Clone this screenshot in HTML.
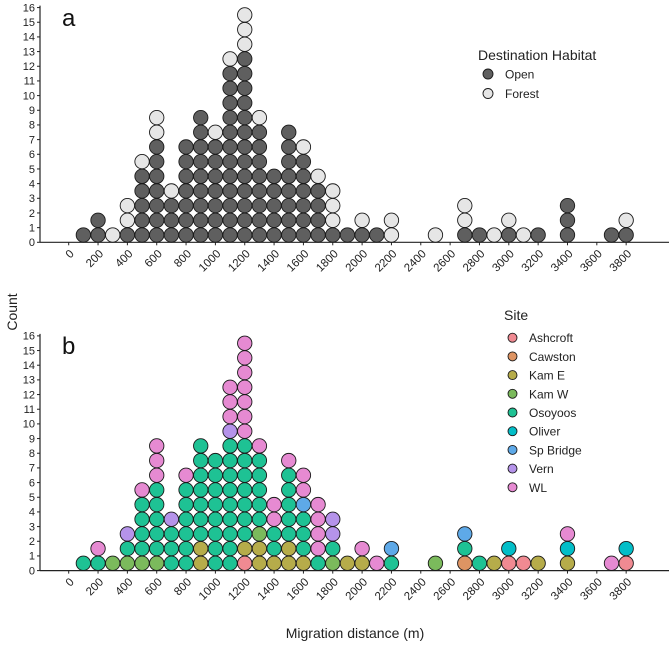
<!DOCTYPE html>
<html><head><meta charset="utf-8"><style>
body{margin:0;background:#fff}
svg{display:block;font-family:"Liberation Sans",sans-serif}
</style></head><body>
<svg id="c" width="669" height="650" viewBox="0 0 669 650"></svg>
<script>
const distances=[100,200,300,400,500,600,700,800,900,1000,1100,1200,1300,1400,1500,1600,1700,1800,1900,2000,2100,2200,2500,2700,2800,2900,3000,3100,3200,3400,3700,3800];
const openCounts=[1,2,0,1,5,7,3,7,9,7,12,13,8,5,8,6,4,1,1,1,1,0,0,1,1,0,1,0,1,3,1,1];
const forestCounts=[0,0,1,2,1,2,1,0,0,1,1,3,1,0,0,1,1,3,0,1,0,2,1,2,0,1,1,1,0,0,0,1];
const siteStacks=[
"O","O,WL","KW","KW,O,V","KW,O,O,O,O,WL","KW,O,O,O,O,O,WL,WL,WL","O,O,O,V","O,O,O,O,O,O,WL","KE,KE,O,O,O,O,O,O,O","O,O,O,O,O,O,O,O",
"O,O,O,O,O,O,O,O,O,V,WL,WL,WL","A,KE,O,O,O,O,O,O,O,WL,WL,WL,WL,WL,WL,WL","KE,KE,KW,O,O,O,O,O,WL","KE,O,O,WL,WL","KE,KE,O,O,O,O,O,WL","KE,O,O,O,SB,WL,WL","O,WL,WL,WL,WL","KW,O,V,V","KE","KE,WL",
"WL","O,SB","KW","C,O,SB","O","KE","A,OL","A","KE","KE,OL,WL","WL","A,OL"];
const siteKeys=["A","C","KE","KW","O","OL","SB","V","WL"];
const siteNames=["Ashcroft","Cawston","Kam E","Kam W","Osoyoos","Oliver","Sp Bridge","Vern","WL"];
const siteColors=["#F08A92","#DE9463","#B6AC4A","#7BBA5C","#1EC294","#03BEC8","#5EA9E8","#B593EA","#E68AD2"];
const xTicks=[0,200,400,600,800,1000,1200,1400,1600,1800,2000,2200,2400,2600,2800,3000,3200,3400,3600,3800];
const yTicks=[0,1,2,3,4,5,6,7,8,9,10,11,12,13,14,15,16];

const S=document.getElementById('c'),NS="http://www.w3.org/2000/svg";
function mk(t,a,p){const e=document.createElementNS(NS,t);for(const k in a)e.setAttribute(k,a[k]);(p||S).appendChild(e);return e;}
const x=v=>68.7+v*0.1467;
const unit=14.67;
function drawAxes(base,tag){
  const g=mk('g',{});
  
  
  mk('line',{x1:40,y1:base,x2:669,y2:base,stroke:'#222','stroke-width':1.2},g);
  mk('line',{x1:40,y1:base,x2:40,y2:base-16*unit-2,stroke:'#222','stroke-width':1.2},g);
  yTicks.forEach(v=>{const y=base-v*unit;
    mk('line',{x1:37,y1:y,x2:40,y2:y,stroke:'#222'},g);
    const t=mk('text',{x:35,y:y+3.8,'text-anchor':'end','font-size':11,fill:'#222'},g);t.textContent=v;
    
    });
  xTicks.forEach(v=>{const xx=x(v);
    mk('line',{x1:xx,y1:base,x2:xx,y2:base+3,stroke:'#222'},g);
    const ax=xx+6,ay=base+12;
    const t=mk('text',{x:ax,y:ay,'text-anchor':'end','font-size':11.5,fill:'#222',transform:`rotate(-45 ${ax} ${ay})`},g);t.textContent=v;
    
    });
}
function dot(cx,cy,fill,g){const c=mk('circle',{cx:cx,cy:cy,r:7.2,fill:fill,stroke:'#1a1a1a','stroke-width':0.9},g);
  
  }
// Panel a
const baseA=242.3;
drawAxes(baseA,'panel-a');
const ga=mk('g',{});


distances.forEach((d,i)=>{let k=0;
  for(let j=0;j<openCounts[i];j++,k++)dot(x(d),baseA-(k+0.5)*unit,'#5f5f5f',ga);
  for(let j=0;j<forestCounts[i];j++,k++)dot(x(d),baseA-(k+0.5)*unit,'#e6e6e6',ga);});
// Panel b
const baseB=570.6;
drawAxes(baseB,'panel-b');
const gb=mk('g',{});


distances.forEach((d,i)=>{siteStacks[i].split(',').forEach((s,k)=>{
  dot(x(d),baseB-(k+0.5)*unit,siteColors[siteKeys.indexOf(s)],gb);});});
// legends
function txt(s,a,name){const t=mk('text',a);t.textContent=s;return t;}
txt('Destination Habitat',{x:478,y:60,'font-size':14,fill:'#222'},'legend-a-title');
[['Open','#5f5f5f'],['Forest','#e6e6e6']].forEach((e,i)=>{const y=74+i*19.5;
  const c=mk('circle',{cx:488,cy:y,r:5,fill:e[1],stroke:'#1a1a1a','stroke-width':0.9});
  
  
  txt(e[0],{x:505,y:y+4.5,'font-size':12,fill:'#222'},'legend-entry-label');});
txt('Site',{x:504,y:320,'font-size':14,fill:'#222'},'legend-b-title');
siteNames.forEach((n,i)=>{const y=337.7+i*18.7;
  const c=mk('circle',{cx:512.5,cy:y,r:4.5,fill:siteColors[i],stroke:'#1a1a1a','stroke-width':0.9});
  
  
  txt(n,{x:529,y:y+4.5,'font-size':12,fill:'#222'},'legend-entry-label');});
txt('a',{x:62,y:26,'font-size':24,fill:'#111'},'panel-a-label');
txt('b',{x:62,y:354,'font-size':24,fill:'#111'},'panel-b-label');
txt('Count',{x:17,y:312,'font-size':14,fill:'#222','text-anchor':'middle',transform:'rotate(-90 17 312)'},'y-axis-title');
txt('Migration distance (m)',{x:355,y:638,'font-size':14,fill:'#222','text-anchor':'middle'},'x-axis-title');
</script>
</body></html>
